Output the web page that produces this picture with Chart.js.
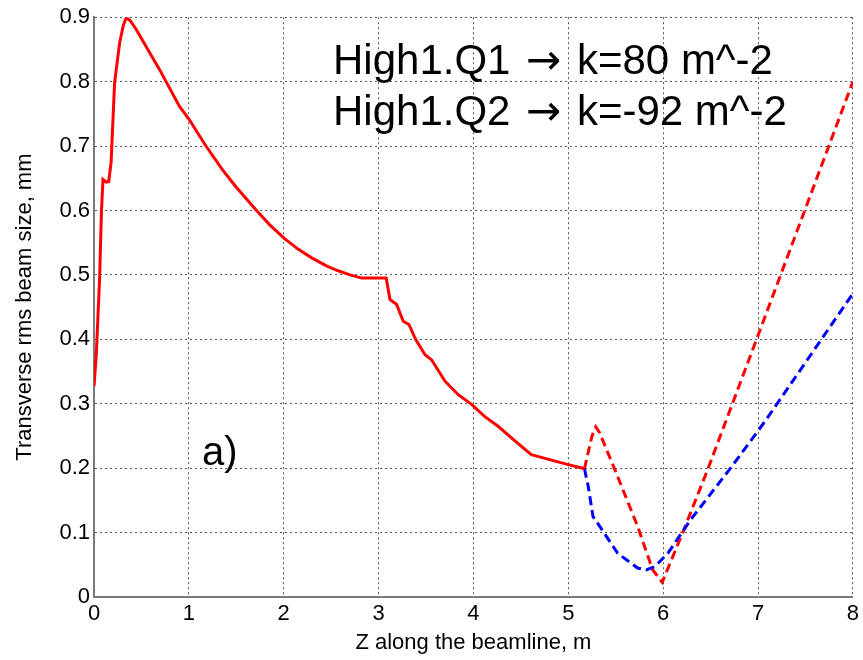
<!DOCTYPE html>
<html>
<head>
<meta charset="utf-8">
<script src="https://cdn.jsdelivr.net/npm/chart.js@4"></script>
<style>
  html, body { margin: 0; padding: 0; background: #fff; }
  #wrap { width: 863px; height: 660px; }
</style>
</head>
<body>
<div id="wrap"><canvas id="beamChart" width="863" height="660"></canvas></div>
<script>
// Beam size along the line (z in m, size in mm)
const redSolidZ = [0, 0.025, 0.06, 0.078, 0.095, 0.13, 0.155, 0.18, 0.217, 0.27, 0.31, 0.34, 0.38, 0.445, 0.69, 0.9, 1.0, 1.18, 1.355, 1.5, 1.706, 1.85, 2.003, 2.15, 2.30, 2.45, 2.58, 2.7, 2.82, 3.08, 3.12, 3.19, 3.26, 3.32, 3.39, 3.49, 3.56, 3.70, 3.84, 3.98, 4.12, 4.26, 4.44, 4.61, 4.96, 5.17];
const redSolidY = [0.327, 0.379, 0.498, 0.597, 0.648, 0.644, 0.645, 0.674, 0.798, 0.860, 0.888, 0.899, 0.895, 0.881, 0.819, 0.762, 0.742, 0.700, 0.663, 0.636, 0.601, 0.578, 0.557, 0.540, 0.526, 0.514, 0.506, 0.500, 0.495, 0.495, 0.462, 0.454, 0.428, 0.423, 0.400, 0.376, 0.368, 0.335, 0.314, 0.299, 0.280, 0.265, 0.242, 0.221, 0.207, 0.199];

const redDashZ = [5.17, 5.25, 5.29, 5.33, 5.49, 5.73, 5.89, 5.99, 6.19, 6.47, 7.0, 7.5, 8.0];
const redDashY = [0.199, 0.250, 0.264, 0.255, 0.198, 0.110, 0.042, 0.023, 0.094, 0.198, 0.406, 0.603, 0.800];

const blueDashZ = [5.17, 5.21, 5.26, 5.33, 5.52, 5.73, 5.82, 5.91, 6.05, 6.29, 6.71, 7.08, 8.0];
const blueDashY = [0.199, 0.172, 0.125, 0.110, 0.068, 0.045, 0.042, 0.047, 0.068, 0.120, 0.200, 0.274, 0.471];

const xTicks = [0, 1, 2, 3, 4, 5, 6, 7, 8];
const yTicks = [0, 0.1, 0.2, 0.3, 0.4, 0.5, 0.6, 0.7, 0.8, 0.9];

// each note line: magnet name, arrow, gradient
const noteLines = [
  ['High1.Q1 ', '\u2192', ' k=80 m^-2'],
  ['High1.Q2 ', '\u2192', ' k=-92 m^-2']
];
const panelLabel = 'a)';

const FONT = '"Liberation Sans", Arial, sans-serif';

function toPoints(zs, ys) {
  return zs.map((z, i) => ({ x: z, y: ys[i] }));
}

// text drawn on top of the plot area
const notesPlugin = {
  id: 'notes',
  afterDraw(chart) {
    const ctx = chart.ctx;
    ctx.save();
    ctx.fillStyle = '#000';
    ctx.textAlign = 'left';
    ctx.textBaseline = 'alphabetic';
    const baselines = [74, 125];
    noteLines.forEach((parts, i) => {
      let x = 333;
      const y = baselines[i];
      ctx.font = '42px ' + FONT;
      ctx.fillText(parts[0], x, y);
      x += ctx.measureText(parts[0]).width + 4;
      ctx.font = '42px "DejaVu Sans"';
      ctx.fillText(parts[1], x, y);
      x += ctx.measureText(parts[1]).width + 4;
      ctx.font = '42px ' + FONT;
      ctx.fillText(parts[2], x, y);
    });
    ctx.font = '40px ' + FONT;
    ctx.fillText(panelLabel, 202, 465);
    ctx.restore();
  }
};

const gridStyle = { color: '#555', lineWidth: 1, drawTicks: false };
const borderStyle = { color: '#7a7a7a', width: 2, dash: [2, 3] };

new Chart(document.getElementById('beamChart').getContext('2d'), {
  type: 'scatter',
  data: {
    datasets: [
      {
        data: toPoints(redSolidZ, redSolidY),
        showLine: true,
        borderColor: '#ff0000',
        borderWidth: 3,
        pointRadius: 0
      },
      {
        data: toPoints(blueDashZ, blueDashY),
        showLine: true,
        borderColor: '#0000ff',
        borderWidth: 3,
        borderDash: [9, 5],
        pointRadius: 0
      },
      {
        data: toPoints(redDashZ, redDashY),
        showLine: true,
        borderColor: '#ff0000',
        borderWidth: 3,
        borderDash: [9, 5],
        pointRadius: 0
      }
    ]
  },
  options: {
    responsive: false,
    animation: false,
    layout: { padding: { top: 17, right: 6, left: 0, bottom: 0 } },
    plugins: {
      legend: { display: false },
      tooltip: { enabled: false }
    },
    scales: {
      x: {
        type: 'linear',
        min: 0,
        max: 8,
        afterFit: s => { s.height = 63; },
        afterBuildTicks: s => { s.ticks = xTicks.map(v => ({ value: v })); },
        ticks: { color: '#000', font: { family: FONT, size: 22 }, padding: 4 },
        grid: gridStyle,
        border: borderStyle,
        title: {
          display: true,
          text: 'Z along the beamline, m',
          color: '#000',
          font: { family: FONT, size: 22 },
          padding: { top: 0, bottom: 4 }
        }
      },
      y: {
        min: 0,
        max: 0.9,
        afterFit: s => { s.width = 94; },
        afterBuildTicks: s => { s.ticks = yTicks.map(v => ({ value: v })); },
        ticks: { color: '#000', font: { family: FONT, size: 22 }, padding: 4 },
        grid: gridStyle,
        border: borderStyle,
        title: {
          display: true,
          text: 'Transverse rms beam size, mm',
          color: '#000',
          font: { family: FONT, size: 22 },
          padding: { top: 12, bottom: 0 }
        }
      }
    }
  },
  plugins: [notesPlugin]
});
</script>
</body>
</html>
